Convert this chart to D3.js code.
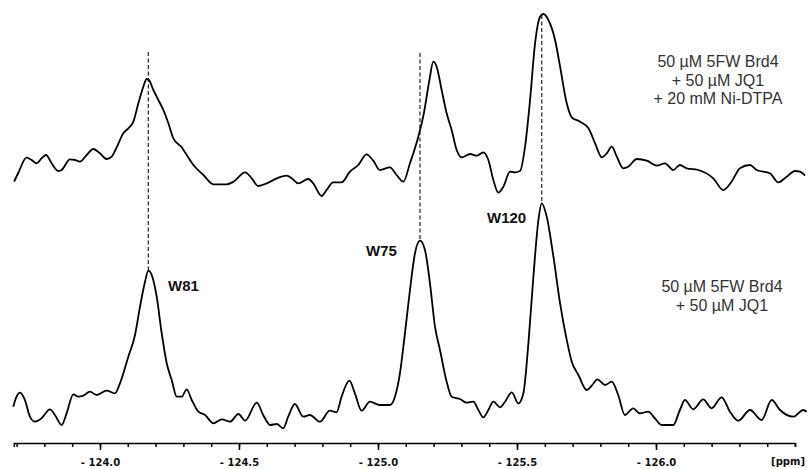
<!DOCTYPE html>
<html>
<head>
<meta charset="utf-8">
<script src="https://cdn.jsdelivr.net/npm/d3@7"></script>
<style>
  body { margin: 0; background: #fff; }
  svg { display: block; }
</style>
</head>
<body>
<svg width="809" height="469"></svg>
<script>
// 19F spectra, x in ppm, intensity in arbitrary units
var topPpm = [-123.691,-123.706,-123.736,-123.754,-123.772,-123.790,-123.806,-123.826,-123.850,-123.862,
  -123.892,-123.910,-123.928,-123.952,-123.976,-124.000,-124.024,-124.042,-124.060,-124.084,
  -124.102,-124.120,-124.138,-124.156,-124.168,-124.176,-124.192,-124.210,-124.228,-124.246,
  -124.264,-124.294,-124.312,-124.336,-124.372,-124.408,-124.456,-124.480,-124.522,-124.546,
  -124.569,-124.600,-124.612,-124.636,-124.672,-124.690,-124.713,-124.749,-124.767,-124.797,
  -124.815,-124.839,-124.869,-124.899,-124.929,-124.959,-124.983,-125.007,-125.043,-125.067,
  -125.091,-125.115,-125.145,-125.165,-125.185,-125.199,-125.211,-125.229,-125.247,-125.265,
  -125.283,-125.301,-125.331,-125.355,-125.379,-125.397,-125.415,-125.433,-125.451,-125.475,
  -125.493,-125.511,-125.529,-125.547,-125.565,-125.583,-125.595,-125.613,-125.637,-125.655,
  -125.679,-125.697,-125.727,-125.757,-125.781,-125.805,-125.823,-125.841,-125.859,-125.882,
  -125.900,-125.931,-125.967,-126.003,-126.032,-126.062,-126.086,-126.110,-126.152,-126.206,
  -126.242,-126.272,-126.302,-126.338,-126.362,-126.410,-126.440,-126.470,-126.500,-126.518,-126.536];
var topInt = [8.3,17,32.3,30,26.7,31.7,35,26.7,19,20,
  30.7,30,28.3,35,41,36.7,31,33.3,42.7,56.7,
  61.7,68.3,86.7,103.3,111,110,100,90,80,66.7,
  51.7,42.7,35,25,15,5.7,5.7,8.3,17.7,11.7,
  4,6.7,8.3,11.7,14.3,11.7,6.7,11,6.7,-6,
  0,7.7,7.7,18.3,25,35.7,29.3,20,22.7,15,
  8.3,26.7,53.3,76.7,110,128.3,123.3,100,76.7,60,
  40,32.7,36,34.3,37.7,30,10,-2.7,3.3,18.3,
  17.7,19,43.3,90,146.7,173.3,176,170,150,123.3,
  86.7,72.7,68.3,61.7,46.7,32.7,36.7,43.3,33.3,21.7,
  23.3,31,29.3,24.3,26.7,20,25,21.7,20,11.7,
  0,8.3,21.7,25,20,16.7,7.7,13.3,19,18.3,14.3];

var botPpm = [-123.688,-123.700,-123.712,-123.730,-123.748,-123.766,-123.790,-123.820,-123.838,-123.862,
  -123.880,-123.904,-123.922,-123.940,-123.964,-123.988,-124.024,-124.054,-124.072,-124.102,
  -124.126,-124.144,-124.162,-124.174,-124.186,-124.204,-124.222,-124.240,-124.258,-124.276,
  -124.294,-124.312,-124.330,-124.354,-124.378,-124.408,-124.438,-124.468,-124.498,-124.522,
  -124.564,-124.587,-124.605,-124.612,-124.636,-124.659,-124.677,-124.701,-124.731,-124.755,
  -124.791,-124.827,-124.851,-124.869,-124.897,-124.917,-124.941,-124.971,-125.007,-125.043,
  -125.061,-125.079,-125.097,-125.115,-125.133,-125.151,-125.169,-125.187,-125.205,-125.223,
  -125.247,-125.265,-125.295,-125.319,-125.343,-125.361,-125.379,-125.397,-125.415,-125.439,
  -125.457,-125.481,-125.505,-125.523,-125.541,-125.559,-125.577,-125.589,-125.607,-125.631,
  -125.655,-125.679,-125.697,-125.721,-125.751,-125.769,-125.789,-125.817,-125.841,-125.864,
  -125.888,-125.918,-125.942,-125.972,-125.996,-126.020,-126.062,-126.086,-126.104,-126.134,
  -126.170,-126.200,-126.236,-126.266,-126.296,-126.338,-126.380,-126.416,-126.446,-126.494,-126.530,-126.542];
var botInt = [23.3,33.3,37.3,30,13.3,8.3,11.7,20.7,15,5,
  16.7,35.7,33.3,34.3,38.3,35,39.3,36.7,46.7,73.3,
  95,123.3,148.3,159.3,155,133.3,96.7,66.7,50,33.3,
  33.3,40.7,30,18.3,15,6.7,10.7,8.3,16,9.3,
  27.3,15,6.7,5,6,1.7,13.3,26,13.3,15,
  8.3,19.3,17.7,33.3,49.3,36.7,19.3,28.3,25,25,
  33.3,56.7,96.7,140,176.7,189.3,180,146.7,103.3,80,
  48.3,33.3,31,27.3,28.3,20,12.7,20,28.3,22.7,
  28.3,37.7,26.7,36.7,86.7,153.3,210,226.7,213.3,173.3,
  126.7,90,68.3,55,40,44.3,50.7,45,48.3,35,
  15,21.7,16.7,18.3,11.7,5,5,20,30,20.7,
  30.7,21.7,32.7,18.3,9.3,20,10,30,20,13.3,20,18.3];

// peak assignments: ppm, top of dashed line (top spectrum units), bottom end (bottom spectrum units)
var peakNames = ["W81", "W75", "W120"];
var peakPpm = [-124.174, -125.151, -125.589];
var dashTop = [138, 137, 175];
var dashBot = [159, 189, 226];

var majorTicks = [-124.0, -124.5, -125.0, -125.5, -126.0];
var topLabel = ["50 \u00b5M 5FW Brd4", "+ 50 \u00b5M JQ1", "+ 20 mM Ni-DTPA"];
var botLabel = ["50 \u00b5M 5FW Brd4", "+ 50 \u00b5M JQ1"];

var svg = d3.select("svg");

var x = d3.scaleLinear().domain([-123.69, -126.5]).range([13.8, 795]);
var yTop = d3.scaleLinear().domain([0, 180]).range([190, 10]);
var yBot = d3.scaleLinear().domain([0, 230]).range([430, 200]);

// dashed guide lines
svg.append("g").selectAll("line")
  .data(peakPpm)
  .join("line")
  .attr("x1", function(d) { return x(d); })
  .attr("x2", function(d) { return x(d); })
  .attr("y1", function(d, i) { return yTop(dashTop[i]); })
  .attr("y2", function(d, i) { return yBot(dashBot[i]); })
  .attr("stroke", "#333")
  .attr("stroke-width", 1.3)
  .attr("stroke-dasharray", "4,2.5");

function drawSpec(ppm, inten, y) {
  var pts = ppm.map(function(p, i) { return [p, inten[i]]; });
  var line = d3.line()
    .x(function(d) { return x(d[0]); })
    .y(function(d) { return y(d[1]); })
    .curve(d3.curveMonotoneX);
  svg.append("path")
    .attr("d", line(pts))
    .attr("fill", "none")
    .attr("stroke", "#000")
    .attr("stroke-width", 1.8)
    .attr("stroke-linejoin", "round");
}
drawSpec(topPpm, topInt, yTop);
drawSpec(botPpm, botInt, yBot);

// peak names
var labelPos = [[168, 291], [366, 256], [487, 223]];
svg.append("g").selectAll("text")
  .data(peakNames)
  .join("text")
  .attr("x", function(d, i) { return labelPos[i][0]; })
  .attr("y", function(d, i) { return labelPos[i][1]; })
  .attr("font-family", "Liberation Sans, Arial, sans-serif")
  .attr("font-weight", "bold")
  .attr("font-size", "15px")
  .attr("fill", "#111")
  .text(function(d) { return d; });

// sample descriptions
function block(lines, cx, y0) {
  svg.append("g").selectAll("text")
    .data(lines)
    .join("text")
    .attr("x", cx)
    .attr("y", function(d, i) { return y0 + i * 18.5; })
    .attr("text-anchor", "middle")
    .attr("font-family", "Liberation Sans, Arial, sans-serif")
    .attr("font-size", "16px")
    .attr("fill", "#333")
    .text(function(d) { return d; });
}
block(topLabel, 718, 67);
block(botLabel, 722, 292);

// ppm axis
var axisY = 443;
var minor = d3.range(-123.7, -126.55, -0.1).map(function(v) { return Math.round(v * 10) / 10; });
svg.append("g")
  .attr("transform", "translate(0," + axisY + ")")
  .call(d3.axisBottom(x).tickValues(minor).tickSize(4).tickSizeOuter(4).tickFormat(""))
  .call(function(g) { g.selectAll("path, line").attr("stroke", "#000").attr("stroke-width", 1.5); });

var major = svg.append("g")
  .attr("transform", "translate(0," + axisY + ")")
  .call(d3.axisBottom(x).tickValues(majorTicks).tickSize(7).tickSizeOuter(0).tickPadding(9)
    .tickFormat(function(d) { return "- " + Math.abs(d).toFixed(1); }));
major.select(".domain").remove();
major.selectAll("line").attr("stroke", "#000").attr("stroke-width", 1.5);
major.selectAll("text")
  .attr("font-family", "DejaVu Sans")
  .attr("font-weight", "bold")
  .attr("font-size", "10px")
  .attr("fill", "#111");

svg.append("text")
  .attr("x", 805)
  .attr("y", 465)
  .attr("text-anchor", "end")
  .attr("font-family", "DejaVu Sans")
  .attr("font-weight", "bold")
  .attr("font-size", "10px")
  .attr("fill", "#111")
  .text("[ppm]");
</script>
</body>
</html>
